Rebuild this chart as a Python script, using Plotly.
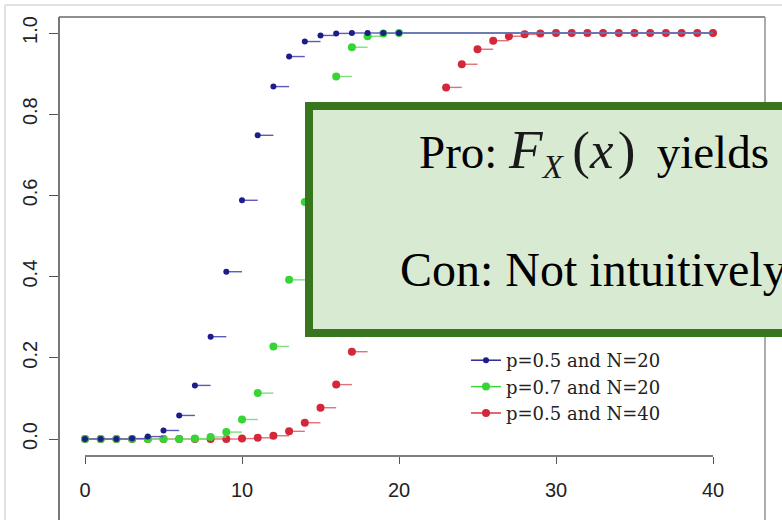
import plotly.graph_objects as go

# ---------------- data ----------------
blue_x = list(range(0, 21))
blue_F = [0.000, 0.000, 0.000, 0.001, 0.006, 0.021, 0.058, 0.132, 0.252, 0.412,
          0.588, 0.748, 0.868, 0.942, 0.979, 0.994, 0.999, 1.000, 1.000, 1.000, 1.000]

green_x = list(range(0, 21))
green_F = [0.000, 0.000, 0.000, 0.000, 0.000, 0.000, 0.000, 0.001, 0.005, 0.017,
           0.048, 0.113, 0.228, 0.392, 0.584, 0.762, 0.893, 0.965, 0.992, 0.999, 1.000]

red_x = list(range(0, 41))
red_F = [0.000, 0.000, 0.000, 0.000, 0.000, 0.000, 0.000, 0.000, 0.000, 0.000,
         0.001, 0.003, 0.008, 0.019, 0.040, 0.077, 0.134, 0.215, 0.318, 0.437,
         0.563, 0.682, 0.785, 0.866, 0.923, 0.960, 0.981, 0.992, 0.997, 0.999,
         1.000, 1.000, 1.000, 1.000, 1.000, 1.000, 1.000, 1.000, 1.000, 1.000, 1.000]

series_names = ["p=0.5 and N=20", "p=0.7 and N=20", "p=0.5 and N=40"]
x_ticks = [0, 10, 20, 30, 40]
y_ticks = [0.0, 0.2, 0.4, 0.6, 0.8, 1.0]
y_ticklabels = ["0.0", "0.2", "0.4", "0.6", "0.8", "1.0"]
X_END = 40

pro_text = ("Pro: <span style='font-size:55px;color:#1a1a1a'><i>F</i></span>"
            "<span style='color:#1a1a1a'><sub><i>X</i></sub></span>&#8201;"
            "<span style='font-size:53px;color:#1a1a1a'>(<i>x</i>&#8202;)</span>&#8201; yields")
con_text = "Con: Not intuitively"

# ---------------- layout geometry ----------------
W, H = 782, 520
PL, PT, PR, PB = 59, 17, 765, 456          # plot area in pixels
X0PX, X40PX = 85, 713                        # pixel of x=0 and x=40
Y0PX, Y1PX = 439, 33                         # pixel of y=0 and y=1
xs_ = (X40PX - X0PX) / 40.0
ys_ = (Y0PX - Y1PX) / 1.0
x_range = [-(X0PX - PL) / xs_, (PR - X0PX) / xs_]
y_range = [-(PB - Y0PX) / ys_, 1 + (Y1PX - PT) / ys_]


def pxx(p):
    return (p - PL) / (PR - PL)


def pxy(p):
    return (PB - p) / (PB - PT)


def steps(x, F, end=None):
    sx, sy = [], []
    for i in range(len(x)):
        nxt = x[i + 1] if i + 1 < len(x) else (end if end is not None else x[i])
        sx += [x[i], nxt, None]
        sy += [F[i], F[i], None]
    return sx, sy


BLUE, GREEN, RED = "#1c1c8a", "#36d436", "#d4283a"
BLUE_L, GREEN_L, RED_L = "#5a5ab8", "#7ee07e", "#e0707a"

fig = go.Figure()

series = [
    (red_x, red_F, None, RED, RED_L, 8, series_names[2]),
    (green_x, green_F, X_END, GREEN, GREEN_L, 8, series_names[1]),
    (blue_x, blue_F, X_END, BLUE, BLUE_L, 6, series_names[0]),
]
for x, F, end, col, lcol, ms, name in series:
    sx, sy = steps(x, F, end)
    fig.add_trace(go.Scatter(x=sx, y=sy, mode="lines", line=dict(color=lcol, width=1.4),
                             showlegend=False, hoverinfo="skip", cliponaxis=False))
    fig.add_trace(go.Scatter(x=x, y=F, mode="markers", marker=dict(color=col, size=ms),
                             showlegend=False, name=name, cliponaxis=False))

# legend entries (blue, green, red order)
for name, col, ms in [(series_names[0], BLUE, 6), (series_names[1], GREEN, 8),
                      (series_names[2], RED, 8)]:
    fig.add_trace(go.Scatter(x=[None], y=[None], mode="lines+markers", name=name,
                             line=dict(color=col, width=1.4), marker=dict(color=col, size=ms)))

shapes = []
# outer light border
shapes.append(dict(type="line", xref="paper", yref="paper", x0=pxx(5), x1=pxx(W + 5),
                   y0=pxy(5), y1=pxy(5), line=dict(color="#e2e2e2", width=2)))
shapes.append(dict(type="line", xref="paper", yref="paper", x0=pxx(5), x1=pxx(5),
                   y0=pxy(5), y1=pxy(H + 5), line=dict(color="#e2e2e2", width=2)))
# frame
shapes.append(dict(type="line", xref="paper", yref="paper", x0=0, x1=0, y0=1, y1=pxy(H + 5),
                   line=dict(color="#555555", width=1.6)))
shapes.append(dict(type="line", xref="paper", yref="paper", x0=0, x1=1, y0=1, y1=1,
                   line=dict(color="#6a6a6a", width=1.6)))
shapes.append(dict(type="line", xref="paper", yref="paper", x0=1, x1=1, y0=1, y1=pxy(H + 5),
                   line=dict(color="#999999", width=1.6)))
# x axis line from first to last tick
shapes.append(dict(type="line", xref="x", yref="paper", x0=x_ticks[0], x1=x_ticks[-1],
                   y0=0, y1=0, line=dict(color="#555555", width=1.4)))
# green callout box
shapes.append(dict(type="rect", xref="paper", yref="paper", x0=pxx(309), x1=pxx(W + 30),
                   y0=pxy(333), y1=pxy(106), line=dict(color="#38761d", width=8),
                   fillcolor="#d9ead3", layer="above"))

annotations = [
    dict(xref="paper", yref="paper", x=pxx(417), y=pxy(152), xanchor="left", yanchor="middle",
         text=pro_text, showarrow=False, font=dict(family="Liberation Serif", size=47, color="#000")),
    dict(xref="paper", yref="paper", x=pxx(398), y=pxy(269), xanchor="left", yanchor="middle",
         text=con_text, showarrow=False, font=dict(family="Liberation Serif", size=48, color="#000")),
]

fig.update_layout(
    width=W, height=H,
    margin=dict(l=PL, r=W - PR, t=PT, b=H - PB, pad=0),
    paper_bgcolor="white", plot_bgcolor="white",
    shapes=shapes, annotations=annotations,
    showlegend=True,
    legend=dict(x=pxx(466), y=pxy(342), xanchor="left", yanchor="top",
                bgcolor="rgba(0,0,0,0)", font=dict(family="DejaVu Serif", size=18, color="#222"),
                tracegroupgap=0, itemwidth=30),
    xaxis=dict(range=x_range, tickvals=x_ticks, ticks="outside", ticklen=7, tickcolor="#555",
               tickwidth=1.4, showgrid=False, zeroline=False, showline=False,
               tickfont=dict(family="Liberation Sans", size=20, color="#222"),
               ticklabelstandoff=9),
    yaxis=dict(range=y_range, tickvals=y_ticks, ticktext=y_ticklabels, ticks="outside",
               ticklen=9, tickcolor="#555", tickwidth=1.4, tickangle=-90,
               showgrid=False, zeroline=False, showline=False, ticklabelstandoff=4,
               tickfont=dict(family="Liberation Sans", size=20, color="#222")),
)

fig.write_html("out.html")
